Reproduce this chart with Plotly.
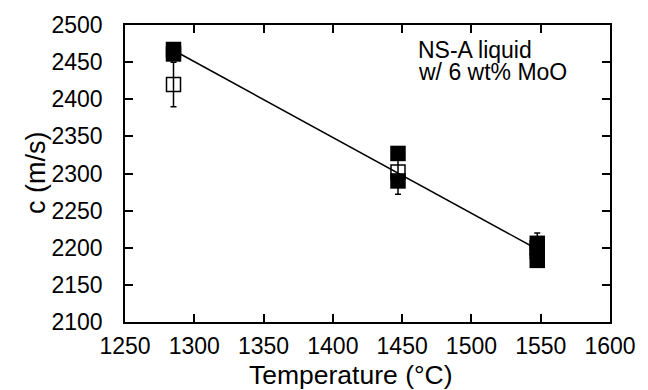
import plotly.graph_objects as go

# Data
filled_T = [1285, 1285, 1447, 1447, 1547.5, 1547.5, 1547.5]
filled_c = [2467, 2461, 2327, 2290, 2206, 2195, 2183]

open_T = [1285, 1447, 1547.5]
open_c = [2420, 2302, 2200]
open_err = [30, 30, 20]

fit_T = [1285, 1547.5]
fit_c = [2466, 2198]

x_ticks = [1250, 1300, 1350, 1400, 1450, 1500, 1550, 1600]
y_ticks = [2100, 2150, 2200, 2250, 2300, 2350, 2400, 2450, 2500]

note_lines = ["NS-A liquid", "w/ 6 wt% MoO"]

FONT = "Liberation Sans, Arial, Helvetica, sans-serif"

fig = go.Figure()

fig.add_trace(go.Scatter(
    x=fit_T, y=fit_c, mode="lines",
    line=dict(color="black", width=1.5),
    showlegend=False, hoverinfo="skip"))

fig.add_trace(go.Scatter(
    x=open_T, y=open_c, mode="markers",
    marker=dict(symbol="square-open", size=14, color="black",
                line=dict(color="black", width=1.5)),
    error_y=dict(type="data", array=open_err, visible=True,
                 color="black", thickness=1.5, width=3),
    showlegend=False))

fig.add_trace(go.Scatter(
    x=filled_T, y=filled_c, mode="markers",
    marker=dict(symbol="square", size=15.5, color="black",
                line=dict(color="black", width=0)),
    showlegend=False))

axis_common = dict(
    showline=True, linecolor="black", linewidth=1.5, mirror="ticks",
    ticks="inside", ticklen=8, tickwidth=1.5, tickcolor="black",
    showgrid=False, zeroline=False,
    tickfont=dict(family=FONT, size=23, color="black"),
)

fig.update_xaxes(range=[1250, 1600], tickvals=x_ticks,
                 ticktext=[str(v) for v in x_ticks],
                 ticklabelstandoff=3, **axis_common)
fig.update_yaxes(range=[2100, 2500], tickvals=y_ticks,
                 ticktext=[str(v) for v in y_ticks],
                 ticklabelstandoff=16, **axis_common)

annotations = [
    dict(text="Temperature (°C)", xref="paper", yref="paper",
         x=0.465, y=-0.178, xanchor="center", yanchor="middle",
         showarrow=False, font=dict(family=FONT, size=26.5, color="black")),
    dict(text="c (m/s)", xref="paper", yref="paper",
         x=-0.185, y=0.503, xanchor="center", yanchor="middle", textangle=-90,
         showarrow=False, font=dict(family=FONT, size=27, color="black")),
    dict(text=note_lines[0], xref="paper", yref="paper",
         x=0.600, y=0.915, xanchor="left", yanchor="middle",
         showarrow=False, font=dict(family=FONT, size=23, color="black")),
    dict(text=note_lines[1], xref="paper", yref="paper",
         x=0.600, y=0.843, xanchor="left", yanchor="middle",
         showarrow=False, font=dict(family=FONT, size=23, color="black")),
]

fig.update_layout(
    width=648, height=390,
    margin=dict(l=125, r=31, t=24, b=68),
    paper_bgcolor="white", plot_bgcolor="white",
    annotations=annotations,
)

fig.write_html("out.html")
